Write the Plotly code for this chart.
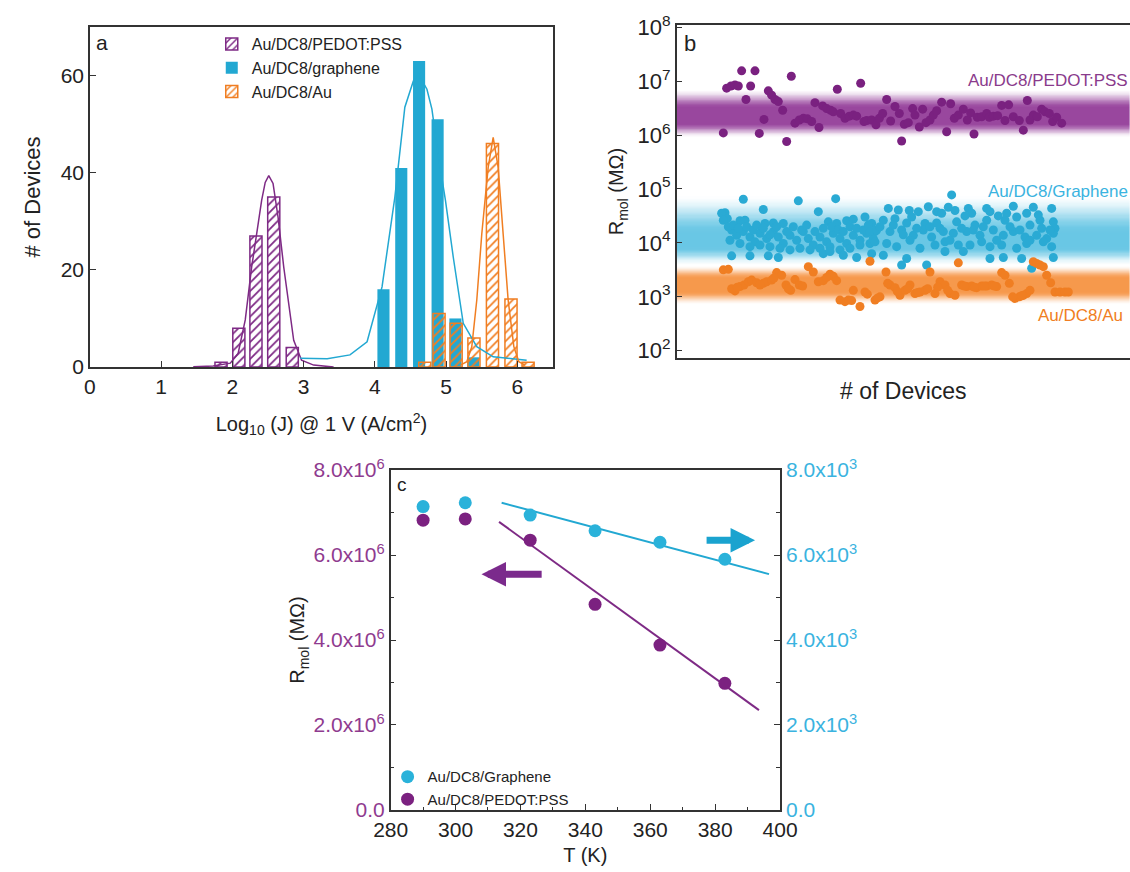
import numpy as np
import plotly.graph_objects as go

# ---------------- Panel a: histogram data ----------------
pedot_bins = [1.84, 2.09, 2.33, 2.58, 2.84]
pedot_counts = [1, 8, 27, 35, 4]
graphene_bins = [4.12, 4.37, 4.62, 4.88, 5.13, 5.38]
graphene_counts = [16, 41, 63, 51, 10, 2]
au_bins = [4.70, 4.90, 5.14, 5.39, 5.65, 5.91, 6.15]
au_counts = [1, 11, 9, 6, 46, 14, 1]

pedot_fit_x = [1.45, 1.73, 1.97, 2.08, 2.18, 2.27, 2.34, 2.41, 2.46, 2.51, 2.57, 2.64, 2.72, 2.86, 2.97, 3.14, 3.42]
pedot_fit_y = [0.05, 0.2, 0.8, 2.8, 9.7, 20.6, 27.4, 34.3, 38.0, 39.4, 37.8, 30.9, 20.6, 5.5, 1.4, 0.4, 0.0]
graphene_fit_x = [2.95, 3.33, 3.65, 3.89, 4.10, 4.28, 4.42, 4.54, 4.61, 4.73, 4.80, 4.89, 4.99, 5.10, 5.24, 5.43, 5.66, 6.13]
graphene_fit_y = [1.8, 1.7, 2.5, 5.2, 16.5, 35.0, 53.5, 58.9, 60.3, 57.2, 53.1, 43.5, 34.3, 22.6, 9.0, 4.2, 2.1, 1.4]
au_fit_x = [5.20, 5.29, 5.36, 5.43, 5.50, 5.59, 5.66, 5.73, 5.80, 5.87, 5.95, 6.02, 6.11]
au_fit_y = [0.4, 1.1, 4.2, 13.8, 27.4, 41.1, 47.3, 41.1, 27.4, 13.8, 4.2, 1.1, 0.4]

# ---------------- Panel b: R_mol per device (log10 of MOhm) ----------------
pedot_dev = [14.0, 15.0, 16.3, 17.5, 18.5, 19.5, 20.8, 22.2, 23.5, 24.8, 26.2, 27.5, 28.5, 29.5, 30.5, 31.8,
             33.0, 34.4, 35.5, 36.8, 38.0, 39.2, 40.5, 41.5, 42.7, 43.8, 45.0, 46.2, 47.0, 48.2, 49.2, 50.5,
             51.8, 53.0, 54.0, 55.2, 56.2, 57.0, 58.5, 59.8, 60.8, 61.8, 63.0, 64.2, 65.5, 66.8, 67.5, 68.3,
             69.5, 70.8, 71.5, 72.8, 73.8, 74.8, 76.0, 77.0, 78.0, 79.5, 81.0, 82.2, 83.3, 84.5, 86.0, 87.2,
             88.2, 89.2, 90.2, 91.5, 93.0, 93.8, 95.0, 96.3, 97.5, 98.5, 99.6, 101.0, 102.8, 104.0, 105.2,
             106.0, 107.0, 108.2, 109.5, 110.5, 111.8, 112.8, 114.0, 115.5]
pedot_logR = [6.04, 6.87, 6.91, 6.93, 6.91, 7.19, 6.66, 6.91, 7.19, 6.03, 6.29, 6.82, 6.74, 6.66, 6.62, 6.46,
              5.88, 7.09, 6.22, 6.28, 6.31, 6.30, 6.25, 6.60, 6.14, 6.54, 6.49, 6.46, 6.43, 6.85, 6.40, 6.31,
              6.35, 6.37, 6.35, 6.96, 6.25, 6.27, 6.28, 6.19, 6.31, 6.40, 6.66, 6.26, 6.53, 6.40, 5.89, 6.20,
              6.23, 6.49, 6.37, 6.15, 6.48, 6.23, 6.28, 6.37, 6.45, 6.61, 6.06, 6.58, 6.31, 6.37, 6.48, 6.28,
              6.41, 6.02, 6.33, 6.34, 6.40, 6.33, 6.35, 6.36, 6.55, 6.27, 6.56, 6.34, 6.27, 6.09, 6.64,
              6.28, 6.37, 6.34, 6.48, 6.43, 6.40, 6.25, 6.33, 6.22]

graphene_dev = [20.0, 36.5, 47.7, 14.5, 15.2, 19.0, 20.5, 26.0, 26.5, 29.0, 32.0, 42.5, 45.5, 48.0, 51.0, 53.0,
                56.5, 58.5, 16.5, 18.0, 20.0, 22.0, 23.5, 25.0, 27.0, 29.0, 30.5, 32.0, 34.0, 36.0, 38.0, 39.5,
                41.0, 43.0, 45.0, 47.0, 49.0, 51.0, 53.0, 55.0, 57.0, 59.0, 16.0, 19.0, 22.0, 25.0, 28.0, 31.0,
                34.0, 37.0, 40.0, 43.0, 46.0, 49.0, 52.0, 55.0, 58.0, 16.5, 22.0, 27.5, 30.5, 44.0, 46.0, 50.0,
                54.0, 58.5, 13.5, 14.0, 15.5, 17.0, 18.5, 21.0, 23.0, 24.0, 26.0, 28.0, 30.0, 33.0, 35.0, 37.5,
                39.0, 41.5, 44.0, 46.5, 48.5, 50.0, 52.0, 54.0, 56.0, 57.5, 59.5,
                82.5, 63.5, 66.5, 69.8, 72.5, 75.5, 78.0, 79.5, 81.5, 83.5, 87.5, 88.5, 93.0, 94.0, 99.0, 101.0,
                105.0, 107.0, 112.5, 62.0, 65.5, 69.0, 74.5, 78.0, 84.0, 89.5, 93.0, 98.5, 102.0, 106.0, 109.0,
                113.0, 113.5, 58.0, 60.0, 64.0, 67.5, 71.0, 74.0, 76.5, 80.0, 83.0, 87.0, 91.0, 95.0, 98.0,
                101.0, 104.5, 108.0, 111.0, 113.0, 59.5, 63.0, 66.0, 70.0, 73.0, 77.5, 80.5, 84.5, 88.0, 91.5,
                94.0, 97.5, 102.0, 105.0, 110.0, 112.5, 62.0, 69.0, 75.0, 80.5, 86.0, 94.0, 98.0, 103.5, 106.5,
                113.0, 67.5, 61.0, 65.0, 68.0, 72.0, 76.0, 79.0, 82.0, 85.5, 89.0, 92.0, 96.0, 100.0, 103.0,
                106.0, 109.5, 112.0, 70.5, 86.5, 96.5, 108.5]
graphene_logR = [4.81, 4.78, 4.82, 4.56, 4.45, 4.41, 4.42, 4.62, 4.36, 4.37, 4.36, 4.58, 4.39, 4.36, 4.41, 4.44,
                 4.48, 4.36, 4.24, 4.14, 4.21, 4.11, 4.02, 4.18, 4.08, 4.21, 4.11, 3.99, 4.14, 4.05, 4.21, 4.08,
                 3.96, 4.11, 4.02, 4.18, 4.08, 3.99, 4.14, 4.05, 4.18, 4.08, 4.05, 3.99, 3.93, 3.96, 3.93, 3.90,
                 3.87, 3.90, 3.87, 3.90, 3.93, 3.87, 3.90, 3.96, 3.99, 3.76, 3.76, 3.76, 3.73, 3.80, 3.84, 3.77,
                 3.73, 3.80, 4.55, 4.42, 4.30, 4.33, 4.27, 4.30, 4.24, 4.33, 4.27, 4.15, 4.30, 4.21, 4.30, 4.24,
                 4.33, 4.21, 4.27, 4.30, 4.24, 4.21, 4.30, 4.27, 4.24, 4.33, 4.21,
                 4.89, 4.64, 4.61, 4.60, 4.58, 4.67, 4.58, 4.55, 4.66, 4.60, 4.64, 4.55, 4.64, 4.58, 4.55, 4.68,
                 4.55, 4.66, 4.64, 4.42, 4.45, 4.37, 4.36, 4.37, 4.39, 4.33, 4.42, 4.42, 4.48, 4.33, 4.42,
                 4.39, 4.27, 4.21, 4.24, 4.21, 4.24, 4.14, 4.24, 4.11, 4.21, 4.18, 4.21, 4.14, 4.24, 4.14,
                 4.21, 4.11, 4.14, 4.08, 4.18, 4.02, 3.99, 3.93, 4.05, 3.90, 3.96, 4.02, 3.96, 3.96, 4.02,
                 3.93, 3.96, 3.90, 3.99, 4.02, 3.93, 3.77, 3.71, 3.59, 3.84, 3.84, 3.71, 3.73, 3.71, 3.53,
                 3.73, 3.59, 4.30, 4.33, 4.15, 4.27, 4.30, 4.27, 4.05, 4.27, 4.24, 4.30, 4.05, 4.30, 4.24,
                 4.05, 4.27, 4.24, 4.48, 4.50, 4.50, 4.52]

au_dev = [14.0, 15.5, 17.5, 19.0, 20.2, 21.5, 22.5, 24.0, 26.0, 27.0, 28.5, 30.0, 31.5, 32.8, 34.2, 35.5,
          36.8, 39.5, 41.0, 42.5, 44.0, 46.0, 47.0, 49.0, 50.5, 51.5, 53.0, 55.0, 56.5, 58.0, 59.5, 61.0,
          62.8, 64.0, 65.5, 67.0, 68.5, 70.0, 71.5, 73.0, 74.5, 76.0, 77.5, 79.0, 80.5, 82.0, 83.5, 84.5,
          85.5, 87.0, 88.5, 90.0, 91.5, 93.0, 94.5, 96.0, 97.5, 98.5, 99.8, 101.5, 102.8, 104.0, 105.0,
          106.0, 107.0, 108.0, 109.0, 110.0, 112.2, 113.5, 115.0, 116.5, 117.5,
          16.5, 18.2, 25.0, 29.2, 33.5, 37.8, 45.0, 48.0, 52.5, 57.2, 60.3, 63.3, 66.2, 69.3, 72.3, 75.3,
          78.3, 81.3, 86.3, 89.3, 92.3, 95.3, 100.8, 103.5, 111.0]
au_logR = [3.50, 3.51, 3.11, 3.19, 3.22, 3.28, 3.31, 3.26, 3.25, 3.28, 3.31, 3.45, 3.40, 3.22, 3.12, 3.32,
           3.22, 3.56, 3.46, 3.28, 3.30, 3.42, 3.38, 2.94, 2.91, 2.94, 3.12, 2.82, 3.09, 3.66, 2.94, 3.00,
           3.46, 3.22, 3.17, 3.03, 3.12, 3.22, 3.06, 3.09, 3.12, 3.46, 3.06, 3.28, 3.22, 3.06, 3.03, 3.63,
           3.22, 3.19, 3.20, 3.17, 3.20, 3.20, 3.22, 3.19, 3.45, 3.40, 3.25, 2.97, 3.00, 3.03, 3.06,
           3.12, 3.65, 3.62, 3.59, 3.56, 3.26, 3.09, 3.09, 3.09, 3.09,
           3.15, 3.18, 3.22, 3.35, 3.15, 3.20, 3.36, 3.30, 2.93, 3.05, 2.98, 3.25, 3.10, 3.15, 3.08, 3.15,
           3.18, 3.12, 3.20, 3.18, 3.20, 3.20, 3.00, 3.02, 3.40]

# shaded bands: [fade start, core start, core end, fade end] in log10(R)
pedot_band = [5.95, 6.22, 6.50, 6.85]
graphene_band = [3.58, 3.92, 4.18, 4.90]
au_band = [2.85, 3.10, 3.35, 3.58]

# ---------------- Panel c: temperature dependence ----------------
T_K = [290, 303, 323, 343, 363, 383]
R_pedot_T = [6.82e6, 6.85e6, 6.35e6, 4.84e6, 3.88e6, 2.98e6]
R_graphene_T = [7.14e3, 7.23e3, 6.94e3, 6.57e3, 6.30e3, 5.90e3]
fit_pedot_T = [313.4, 393.5]
fit_pedot_R = [6.78e6, 2.35e6]
fit_graphene_T = [314.2, 396.6]
fit_graphene_R = [7.23e3, 5.55e3]

PURPLE = "#7e2a85"
PURPLE_TXT = "#8f3b8f"
CYAN = "#22a8d2"
CYAN_TXT = "#3ab3e0"
ORANGE = "#f07e22"
FONT = "Liberation Sans, Arial, sans-serif"
AXC = "#333333"

fig = go.Figure()

# ---- panel a ----
fig.add_trace(go.Bar(x=graphene_bins, y=graphene_counts, width=0.17, name="Au/DC8/graphene",
                     marker=dict(color=CYAN, line=dict(width=0)), xaxis="x", yaxis="y",
                     legend="legend", legendrank=2))
fig.add_trace(go.Bar(x=pedot_bins, y=pedot_counts, width=0.17, name="Au/DC8/PEDOT:PSS",
                     marker=dict(color="rgba(0,0,0,0)", line=dict(color=PURPLE, width=1.5),
                                 pattern=dict(shape="/", fgcolor=PURPLE, bgcolor="rgba(255,255,255,0)",
                                              size=6, solidity=0.3, fillmode="replace")),
                     xaxis="x", yaxis="y", legend="legend", legendrank=1))
fig.add_trace(go.Bar(x=au_bins, y=au_counts, width=0.17, name="Au/DC8/Au",
                     marker=dict(color="rgba(0,0,0,0)", line=dict(color=ORANGE, width=1.5),
                                 pattern=dict(shape="/", fgcolor=ORANGE, bgcolor="rgba(255,255,255,0)",
                                              size=6, solidity=0.3, fillmode="replace")),
                     xaxis="x", yaxis="y", legend="legend", legendrank=3))
fig.add_trace(go.Scatter(x=pedot_fit_x, y=pedot_fit_y, mode="lines", line=dict(color=PURPLE, width=1.5),
                         showlegend=False, xaxis="x", yaxis="y"))
fig.add_trace(go.Scatter(x=graphene_fit_x, y=graphene_fit_y, mode="lines", line=dict(color=CYAN, width=1.5),
                         showlegend=False, xaxis="x", yaxis="y"))
fig.add_trace(go.Scatter(x=au_fit_x, y=au_fit_y, mode="lines", line=dict(color=ORANGE, width=1.5),
                         showlegend=False, xaxis="x", yaxis="y"))

# ---- panel b ----
def band_alpha(edges, ys):
    a0, a1, a2, a3 = edges
    out = []
    for v in ys:
        if v <= a0 or v >= a3:
            t = 0.0
        elif v < a1:
            t = (v - a0) / (a1 - a0)
        elif v > a2:
            t = (a3 - v) / (a3 - a2)
        else:
            t = 1.0
        out.append(t * t * (3 - 2 * t))
    return out

def add_band(edges, rgb, amax):
    e = np.linspace(edges[0], edges[3], 61)
    mids = (e[:-1] + e[1:]) / 2
    z = [[a] for a in band_alpha(edges, mids)]
    fig.add_trace(go.Heatmap(x=[0, 136], y=10 ** e, z=z, zmin=0, zmax=1, showscale=False,
                             colorscale=[[0, f"rgba({rgb},0)"], [1, f"rgba({rgb},{amax})"]],
                             hoverinfo="skip", xaxis="x2", yaxis="y2"))

add_band(pedot_band, "139,45,145", 0.88)
add_band(graphene_band, "55,180,220", 0.75)
add_band(au_band, "245,135,45", 0.85)

fig.add_trace(go.Scatter(x=graphene_dev, y=10 ** np.array(graphene_logR), mode="markers",
                         marker=dict(color="#2aaad4", size=9), showlegend=False, xaxis="x2", yaxis="y2"))
fig.add_trace(go.Scatter(x=au_dev, y=10 ** np.array(au_logR), mode="markers",
                         marker=dict(color=ORANGE, size=9), showlegend=False, xaxis="x2", yaxis="y2"))
fig.add_trace(go.Scatter(x=pedot_dev, y=10 ** np.array(pedot_logR), mode="markers",
                         marker=dict(color="#7a2180", size=9), showlegend=False, xaxis="x2", yaxis="y2"))

# ---- panel c ----
fig.add_trace(go.Scatter(x=fit_graphene_T, y=fit_graphene_R, mode="lines", line=dict(color=CYAN, width=2),
                         showlegend=False, xaxis="x3", yaxis="y4"))
fig.add_trace(go.Scatter(x=fit_pedot_T, y=fit_pedot_R, mode="lines", line=dict(color=PURPLE, width=2),
                         showlegend=False, xaxis="x3", yaxis="y3"))
fig.add_trace(go.Scatter(x=T_K, y=R_graphene_T, mode="markers", name="Au/DC8/Graphene",
                         marker=dict(color="#2ab2da", size=13), xaxis="x3", yaxis="y4", legend="legend2"))
fig.add_trace(go.Scatter(x=T_K, y=R_pedot_T, mode="markers", name="Au/DC8/PEDOT:PSS",
                         marker=dict(color="#7b2180", size=13), xaxis="x3", yaxis="y3", legend="legend2"))

axis_common = dict(showline=True, linecolor=AXC, linewidth=1.5, ticks="inside", ticklen=6,
                   tickcolor=AXC, showgrid=False, zeroline=False, automargin=False,
                   tickfont=dict(family=FONT, size=21, color="#222"))

fig.update_layout(
    width=1130, height=872, margin=dict(l=0, r=0, t=0, b=0),
    paper_bgcolor="white", plot_bgcolor="white", barmode="overlay",
    font=dict(family=FONT, color="#222"),
    xaxis=dict(axis_common, domain=[0.0796, 0.4894], range=[0, 6.5], tickvals=[0, 1, 2, 3, 4, 5, 6],
               mirror=True, anchor="y",
               title=dict(text="Log<sub>10</sub> (J) @ 1 V (A/cm<sup>2</sup>)", font=dict(size=20), standoff=20)),
    yaxis=dict(axis_common, domain=[0.5791, 0.969], range=[0, 70], tickvals=[0, 20, 40, 60],
               mirror=True, anchor="x",
               title=dict(text="# of Devices", font=dict(size=22), standoff=14)),
    xaxis2=dict(axis_common, domain=[0.5988, 1.0], range=[0, 136], showticklabels=False, ticks="",
                mirror=True, anchor="y2",
                title=dict(text="# of Devices", font=dict(size=23), standoff=24)),
    yaxis2=dict(axis_common, domain=[0.5894, 0.9713], type="log", range=[1.865, 8.04],
                tickvals=[10 ** k for k in range(2, 9)],
                ticktext=[f"10<sup>{k}</sup>" for k in range(2, 9)],
                tickfont=dict(family=FONT, size=22, color="#222"),
                mirror=False, anchor="x2",
                title=dict(text="R<sub>mol</sub> (MΩ)", font=dict(size=20), standoff=8)),
    xaxis3=dict(axis_common, domain=[0.3457, 0.6903], range=[280, 400],
                tickvals=[280, 300, 320, 340, 360, 380, 400], mirror=True, anchor="y3",
                minor=dict(ticks="inside", ticklen=3, dtick=10, tickcolor=AXC),
                title=dict(text="T (K)", font=dict(size=20), standoff=8)),
    yaxis3=dict(axis_common, domain=[0.0711, 0.4610], range=[0, 8e6],
                tickvals=[0, 2e6, 4e6, 6e6, 8e6],
                ticktext=["0.0", "2.0x10<sup>6</sup>", "4.0x10<sup>6</sup>", "6.0x10<sup>6</sup>", "8.0x10<sup>6</sup>"],
                tickfont=dict(family=FONT, size=21, color=PURPLE_TXT),
                minor=dict(ticks="inside", ticklen=4, dtick=1e6, tickcolor=AXC),
                anchor="x3",
                title=dict(text="R<sub>mol</sub> (MΩ)", font=dict(size=20), standoff=3)),
    yaxis4=dict(axis_common, domain=[0.0711, 0.4610], range=[0, 8e3], overlaying="y3", side="right",
                tickvals=[0, 2e3, 4e3, 6e3, 8e3],
                ticktext=["0.0", "2.0x10<sup>3</sup>", "4.0x10<sup>3</sup>", "6.0x10<sup>3</sup>", "8.0x10<sup>3</sup>"],
                tickfont=dict(family=FONT, size=21, color=CYAN_TXT),
                minor=dict(ticks="inside", ticklen=4, dtick=1e3, tickcolor=AXC),
                anchor="x3"),
    legend=dict(x=0.1874, y=0.969, xanchor="left", yanchor="top", bgcolor="rgba(0,0,0,0)",
                font=dict(family=FONT, size=16, color="#222"), tracegroupgap=0, itemwidth=30,
                traceorder="normal"),
    legend2=dict(x=0.343, y=0.128, xanchor="left", yanchor="top", bgcolor="rgba(0,0,0,0)",
                 font=dict(family=FONT, size=15, color="#222"), tracegroupgap=0, itemwidth=30),
    annotations=[
        dict(text="a", x=0.0796, y=0.969, xref="paper", yref="paper", xanchor="left", yanchor="top",
             xshift=4, yshift=-2, showarrow=False, font=dict(size=21, color="#222")),
        dict(text="b", x=0.5988, y=0.9713, xref="paper", yref="paper", xanchor="left", yanchor="top",
             xshift=5, yshift=-4, showarrow=False, font=dict(size=22, color="#222")),
        dict(text="c", x=0.3457, y=0.4610, xref="paper", yref="paper", xanchor="left", yanchor="top",
             xshift=4, yshift=-2, showarrow=False, font=dict(size=19, color="#222")),
        dict(text="Au/DC8/PEDOT:PSS", x=0.855, y=1 - 81 / 872, xref="paper", yref="paper",
             xanchor="left", yanchor="middle", showarrow=False, font=dict(size=17, color="#8a3b8c")),
        dict(text="Au/DC8/Graphene", x=0.873, y=1 - 191 / 872, xref="paper", yref="paper",
             xanchor="left", yanchor="middle", showarrow=False, font=dict(size=17, color="#3ab3e0")),
        dict(text="Au/DC8/Au", x=0.917, y=1 - 315 / 872, xref="paper", yref="paper",
             xanchor="left", yanchor="middle", showarrow=False, font=dict(size=17, color=ORANGE)),
        dict(x=308.0, y=5.55e6, ax=327.0, ay=5.55e6, xref="x3", yref="y3", axref="x3", ayref="y3",
             showarrow=True, arrowhead=2, arrowsize=0.7, arrowwidth=7, arrowcolor="#7b2a8c", text=""),
        dict(x=392.3, y=6.35e3, ax=376.9, ay=6.35e3, xref="x3", yref="y4", axref="x3", ayref="y4",
             showarrow=True, arrowhead=2, arrowsize=0.7, arrowwidth=7, arrowcolor="#1aa3cf", text=""),
    ],
)

fig.write_html("out.html", config={"displayModeBar": False},
               post_script="document.body.style.margin='0';document.body.style.overflow='hidden';")
